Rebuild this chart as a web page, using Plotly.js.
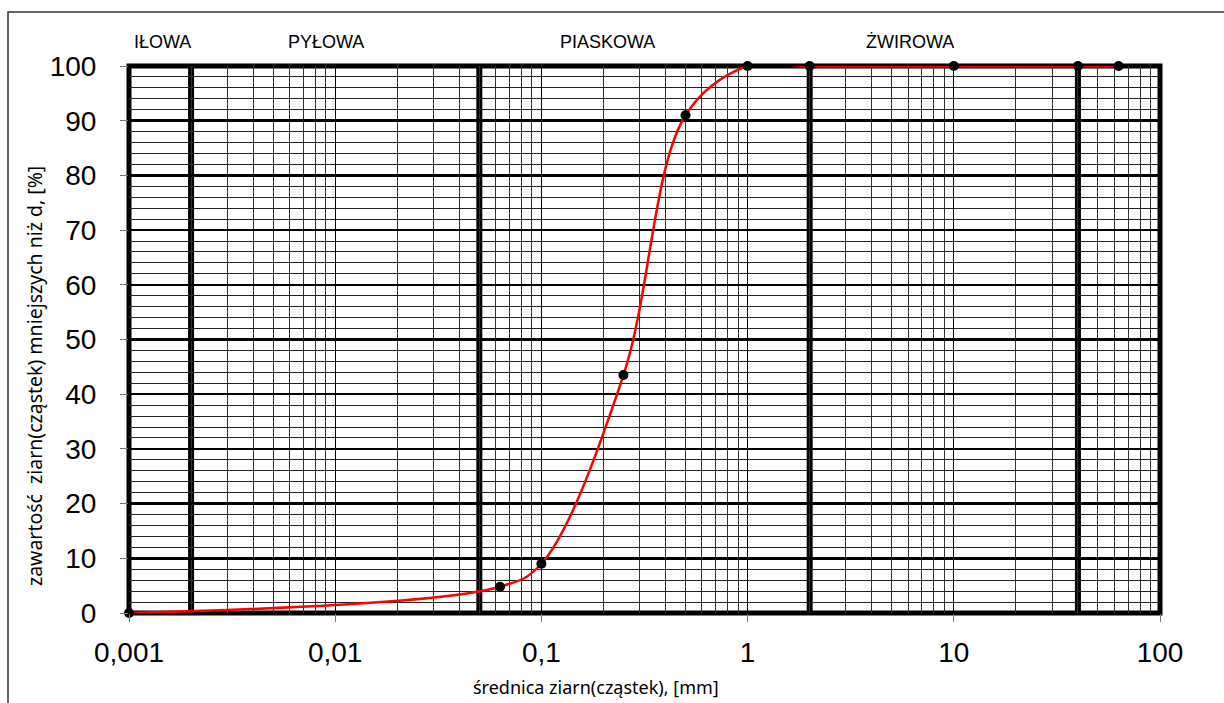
<!DOCTYPE html>
<html>
<head>
<meta charset="utf-8">
<script src="https://cdn.plot.ly/plotly-3.0.1.min.js"></script>
<style>html,body{margin:0;padding:0;background:#fff;}#chart{width:1224px;height:703px;}</style>
</head>
<body>
<div id="chart"></div>
<script>
// Data
const diameters = [0.001, 0.063, 0.1, 0.25, 0.5, 1, 2, 10, 40, 63];
const passing   = [0, 4.8, 9, 43.5, 91, 100, 100, 100, 100, 100];
const xTickVals = [0.001, 0.01, 0.1, 1, 10, 100];
const xTickText = ["0,001", "0,01", "0,1", "1", "10", "100"];
const fractionBounds = [0.002, 0.05, 2, 40];
const fractionNames = ["IŁOWA", "PYŁOWA", "PIASKOWA", "ŻWIROWA"];
const fractionLabelX = [0.00146, 0.009, 0.209, 6.1];
const xTitle = 'średnica ziarn(cząstek), [mm]';
const yTitle = 'zawartość  ziarn(cząstek) mniejszych niż d, [%]';

const W = 1224, H = 703;
const L = 129, R = 64, T = 66, B = 90;
const pw = W - L - R, ph = H - T - B;
const px2paperX = p => (p - L) / pw;
const px2paperY = p => (H - B - p) / ph;

const shapes = [];
fractionBounds.forEach(b => shapes.push({
  type: 'line', xref: 'x', yref: 'paper', x0: b, x1: b, y0: 0, y1: 1,
  line: {color: '#000', width: 6}, layer: 'between'
}));
// plot border
shapes.push({type: 'rect', xref: 'paper', yref: 'paper', x0: 0, x1: 1, y0: 0, y1: 1,
  line: {color: '#000', width: 5}, layer: 'between'});
// outer frame
shapes.push({type: 'rect', xref: 'paper', yref: 'paper',
  x0: px2paperX(8), x1: px2paperX(1240), y0: px2paperY(12), y1: px2paperY(720),
  line: {color: '#333', width: 1.5}, layer: 'below'});

const annotations = fractionNames.map((n, i) => ({
  text: n, xref: 'x', yref: 'paper', x: Math.log10(fractionLabelX[i]), y: px2paperY(42),
  showarrow: false, xanchor: 'center', yanchor: 'middle',
  font: {family: 'Liberation Sans, Arial', size: 18, color: '#000'}
}));
// axis titles
annotations.push({text: xTitle, xref: 'paper', yref: 'paper',
  x: px2paperX(596), y: px2paperY(687), showarrow: false, xanchor: 'center', yanchor: 'middle',
  font: {family: 'Noto Sans, Open Sans', size: 18, color: '#000'}});
annotations.push({text: yTitle, xref: 'paper', yref: 'paper', textangle: -90,
  x: px2paperX(35), y: px2paperY(376), showarrow: false, xanchor: 'center', yanchor: 'middle',
  font: {family: 'Noto Sans, Open Sans', size: 19.5, color: '#000'}});

const traces = [
  {x: diameters, y: passing, type: 'scatter', mode: 'lines',
   line: {color: '#ff0000', width: 2.5, shape: 'spline', smoothing: 1},
   cliponaxis: false, hoverinfo: 'skip', showlegend: false},
  {x: diameters, y: passing, type: 'scatter', mode: 'markers',
   marker: {color: '#000', size: 10}, cliponaxis: false, showlegend: false}
];

const layout = {
  width: W, height: H,
  margin: {l: L, r: R, t: T, b: B},
  paper_bgcolor: '#fff', plot_bgcolor: '#fff',
  showlegend: false,
  xaxis: {
    type: 'log', range: [-3, 2],
    tickvals: xTickVals, ticktext: xTickText,
    ticks: 'outside', ticklen: 8, tickcolor: '#777', tickwidth: 1,
    showgrid: true, gridcolor: '#000', gridwidth: 1,
    minor: {showgrid: true, dtick: 'D1', gridcolor: '#333', gridwidth: 1, ticks: ''},
    zeroline: false, showline: false,
    tickfont: {family: 'Liberation Sans, Arial', size: 28, color: '#000'},
    ticklabelstandoff: 6,
    automargin: false
  },
  yaxis: {
    range: [0, 100], dtick: 10, tick0: 0,
    ticks: 'outside', ticklen: 8, tickcolor: '#777', tickwidth: 1,
    showgrid: true, gridcolor: '#000', gridwidth: 2.5,
    minor: {showgrid: true, dtick: 2, gridcolor: '#222', gridwidth: 1, ticks: ''},
    zeroline: false, showline: false,
    tickfont: {family: 'Liberation Sans, Arial', size: 28, color: '#000'},
    ticklabelstandoff: 18,
    automargin: false
  },
  shapes: shapes,
  annotations: annotations
};

Plotly.newPlot('chart', traces, layout, {displayModeBar: false, staticPlot: true});
</script>
</body>
</html>
